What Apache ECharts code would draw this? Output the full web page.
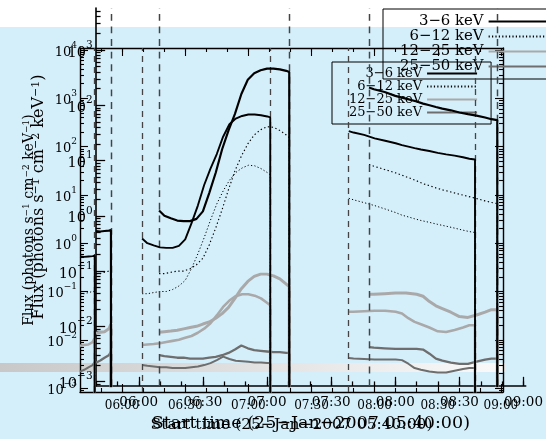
<!DOCTYPE html>
<html>
<head>
<meta charset="utf-8">
<script src="https://cdn.jsdelivr.net/npm/echarts@6/dist/echarts.min.js"></script>
<style>
  html, body { margin: 0; padding: 0; background: #fff; }
  #chart { width: 546px; height: 439px; }
</style>
</head>
<body>
<div id="chart"></div>
<script>
// X-ray light curves, 25-Jan-2007, plotted twice at two scales.
const START_OF_DAY_MIN = 340;          // 05:40 UT
const SPAN_MIN = 201;                  // 05:40 .. 09:01
const FONT = 'DejaVu Serif';

const bandNames = ['3−6 keV', '6−12 keV', '12−25 keV', '25−50 keV'];

// minutes after 05:40; '-' separates orbit-day segments
const minutes = [
  0, 2, 4, 6, 7, 7, '-',
  29.5, 32, 35, 38, 41, 44, 47, 50, 53, 56, 59, 62, 65, 68, 71, 74, 77, 80, 83, 86, 89, 90.4, 90.4, '-',
  127.7, 130, 135, 140, 145, 150, 153, 156, 159, 162, 166, 170, 174, 178, 182, 185, 187.7, 187.7
];
// last point of each segment is the count-rate floor at spacecraft night
const NIGHT = 1e-6;
const flux3to6 = [
  0.53, 0.52, 0.53, 0.54, 0.55, NIGHT, '-',
  1.25, 1.0, 0.9, 0.82, 0.8, 0.8, 0.88, 1.2, 2.6, 6, 16, 35, 70, 160, 290, 380, 430, 460, 460, 445, 420, 400, NIGHT, '-',
  209, 195, 174, 148, 132, 117, 107, 100, 93, 87, 81, 74, 69, 65, 60, 56, 54, NIGHT
];
const flux6to12 = [
  0.09, 0.09, 0.095, 0.1, 0.1, NIGHT, '-',
  0.09, 0.09, 0.095, 0.1, 0.1, 0.11, 0.13, 0.17, 0.3, 0.6, 1.3, 3, 6.5, 12, 20, 29, 36, 41, 40, 35, 29, 26, NIGHT, '-',
  8.5, 7.9, 6.9, 6.0, 5.1, 4.3, 3.8, 3.5, 3.2, 2.95, 2.7, 2.45, 2.25, 2.05, 1.86, 1.74, 1.66, NIGHT
];
const flux12to25 = [
  0.0075, 0.0078, 0.008, 0.009, 0.011, NIGHT, '-',
  0.0078, 0.008, 0.0082, 0.0085, 0.009, 0.0095, 0.01, 0.011, 0.012, 0.014, 0.017, 0.022, 0.032, 0.048, 0.065, 0.08, 0.088, 0.088, 0.082, 0.072, 0.058, 0.052, NIGHT, '-',
  0.038, 0.038, 0.039, 0.04, 0.04, 0.038, 0.035, 0.028, 0.0235, 0.021, 0.018, 0.015, 0.0145, 0.016, 0.018, 0.02, 0.02, NIGHT
];
const flux25to50 = [
  0.0022, 0.0024, 0.0027, 0.003, 0.0035, NIGHT, '-',
  0.003, 0.0029, 0.0028, 0.0027, 0.0027, 0.0026, 0.0026, 0.0026, 0.0027, 0.0028, 0.003, 0.0033, 0.0038, 0.0045, 0.004, 0.0037, 0.0036, 0.0035, 0.0034, 0.0034, 0.0033, 0.0033, NIGHT, '-',
  0.0042, 0.0041, 0.004, 0.0039, 0.0039, 0.0039, 0.0038, 0.0032, 0.0026, 0.0024, 0.0022, 0.0021, 0.0021, 0.0023, 0.0025, 0.0026, 0.0026, NIGHT
];

// night / attenuator boundaries, minutes after 05:40
const boundaryMinutes = [7, 29.5, 90.4, 127.7, 187.7];

// tick positions
const majorTickMinutes = [20, 50, 80, 110, 140, 170, 200];            // 06:00 .. 09:00
const minorTickMinutes = [];
for (let m = 0; m <= SPAN_MIN; m += 10) minorTickMinutes.push(m);
const decades = [-3, -2, -1, 0, 1, 2, 3, 4];
const decadeValues = decades.map(d => Math.pow(10, d));
const minorFluxTicks = [];
for (let d = -4; d <= 4; d++) for (let k = 2; k <= 9; k++) minorFluxTicks.push(k * Math.pow(10, d));

function clockLabel(t) {
  const total = Math.round(START_OF_DAY_MIN + t);
  const hh = Math.floor(total / 60), mm = total % 60;
  return String(hh).padStart(2, '0') + ':' + String(mm).padStart(2, '0');
}
function powerLabel(v) {
  const e = Math.round(Math.log10(v));
  return '{b|10}{s|' + (e < 0 ? '−' + (-e) : String(e)) + '}';
}

// two copies of the same plot: B (small) and A (enlarged)
const views = [
  { grid: { left: 80, top: 48, width: 423, height: 344 }, yMin: Math.pow(10, -3.08), yMax: Math.pow(10, 4.04),
    k: 1, tick: 12, title: 15.5, yname: 14, nameGapX: 23, nameGapY: 43, frame: true,
    legend: { left: 332, top: 62, padding: [5, 13, 5, 17], itemWidth: 50 } },
  { grid: { left: 96, top: 8, width: 484, height: 378 }, yMin: Math.pow(10, -3.08), yMax: Math.pow(10, 3.76),
    k: 1.145, tick: 13.5, title: 17.5, yname: 16, nameGapX: 26, nameGapY: 49, frame: false,
    legend: { left: 383, top: 9, padding: [5, 14, 5, 17], itemWidth: 62 } }
];

const xAxes = [], yAxes = [], series = [], legends = [];
const black = '#000';

views.forEach((v, gi) => {
  const k = v.k;
  const lineW = 1.4 * k;
  const baseX = xAxes.length, baseY = yAxes.length;
  const xBase = { gridIndex: gi, type: 'value', min: 0, max: SPAN_MIN, splitLine: { show: false } };
  const yBase = { gridIndex: gi, type: 'log', logBase: 10, min: v.yMin, max: v.yMax, splitLine: { show: false } };

  // bottom time axis: frame, major ticks and labels
  xAxes.push(Object.assign({}, xBase, {
    position: 'bottom',
    axisLine: { show: true, onZero: false, lineStyle: { color: black, width: lineW } },
    axisTick: { show: true, inside: true, length: 8 * k, customValues: majorTickMinutes, lineStyle: { color: black, width: 1.1 * k } },
    axisLabel: { show: true, customValues: majorTickMinutes, formatter: clockLabel, color: black,
                 fontFamily: FONT, fontSize: v.tick, margin: 8 * k },
    name: 'Start time (25−Jan−2007 05:40:00)', nameLocation: 'middle', nameGap: v.nameGapX,
    nameTextStyle: { fontFamily: FONT, fontSize: v.title, color: black }
  }));
  xAxes.push(Object.assign({}, xBase, {
    position: 'bottom',
    axisLine: { show: false, onZero: false },
    axisTick: { show: true, inside: true, length: 4 * k, customValues: minorTickMinutes, lineStyle: { color: black, width: 1.1 * k } },
    axisLabel: { show: false }
  }));
  yAxes.push(Object.assign({}, yBase, {
    position: 'left',
    axisLine: { show: true, onZero: false, lineStyle: { color: black, width: lineW } },
    axisTick: { show: true, inside: true, length: 8 * k, customValues: decadeValues, lineStyle: { color: black, width: 1.1 * k } },
    axisLabel: { show: true, customValues: decadeValues, formatter: powerLabel, margin: 3 * k,
      rich: {
        b: { fontFamily: FONT, fontSize: v.tick + 1, color: black, verticalAlign: 'bottom', padding: [5 * k, 0, 0, 0] },
        s: { fontFamily: FONT, fontSize: v.tick - 3, color: black, verticalAlign: 'top' }
      } },
    name: 'Flux (photons s{s|−1} cm{s|−2} keV{s|−1})', nameLocation: 'middle', nameGap: v.nameGapY, nameRotate: 90,
    nameTextStyle: { fontFamily: FONT, fontSize: v.yname, color: black,
      rich: { s: { fontFamily: FONT, fontSize: v.yname - 5, color: black, verticalAlign: 'top' } } }
  }));
  yAxes.push(Object.assign({}, yBase, {
    position: 'left',
    axisLine: { show: false, onZero: false },
    axisTick: { show: true, inside: true, length: 4 * k, customValues: minorFluxTicks, lineStyle: { color: black, width: 1.1 * k } },
    axisLabel: { show: false }
  }));
  if (v.frame) {
    xAxes.push(Object.assign({}, xBase, {
      position: 'top',
      axisLine: { show: true, onZero: false, lineStyle: { color: black, width: lineW } },
      axisTick: { show: true, inside: true, length: 8, customValues: majorTickMinutes, lineStyle: { color: black, width: 1.1 } },
      axisLabel: { show: false }
    }));
    xAxes.push(Object.assign({}, xBase, {
      position: 'top',
      axisLine: { show: false, onZero: false },
      axisTick: { show: true, inside: true, length: 4, customValues: minorTickMinutes, lineStyle: { color: black, width: 1.1 } },
      axisLabel: { show: false }
    }));
    yAxes.push(Object.assign({}, yBase, {
      position: 'right',
      axisLine: { show: true, onZero: false, lineStyle: { color: black, width: lineW } },
      axisTick: { show: true, inside: true, length: 8, customValues: decadeValues, lineStyle: { color: black, width: 1.1 } },
      axisLabel: { show: false }
    }));
    yAxes.push(Object.assign({}, yBase, {
      position: 'right',
      axisLine: { show: false, onZero: false },
      axisTick: { show: true, inside: true, length: 4, customValues: minorFluxTicks, lineStyle: { color: black, width: 1.1 } },
      axisLabel: { show: false }
    }));
  }

  const bandStyles = [
    { values: flux25to50, name: bandNames[3], color: '#6e6e6e', width: 2.0 * k, type: 'solid' },
    { values: flux12to25, name: bandNames[2], color: '#a9a9a9', width: 2.6 * k, type: 'solid' },
    { values: flux6to12,  name: bandNames[1], color: '#000000', width: 1.0 * k, type: [1.2 * k, 2.2 * k] },
    { values: flux3to6,   name: bandNames[0], color: '#000000', width: 1.9 * k, type: 'solid' }
  ];
  bandStyles.forEach((b, i) => {
    const s = {
      type: 'line', name: b.name, xAxisIndex: baseX, yAxisIndex: baseY,
      data: minutes.map((m, j) => (m === '-' ? ['-', '-'] : [m, b.values[j]])),
      showSymbol: false, symbol: 'none', connectNulls: false, clip: true,
      color: b.color,
      lineStyle: { color: b.color, width: b.width, type: b.type },
      animation: false, z: 2 + i
    };
    if (i === 3) {
      s.markLine = {
        silent: true, symbol: 'none', animation: false,
        label: { show: false },
        lineStyle: { color: '#444', width: 1.3 * k, type: [6 * k, 5 * k] },
        data: boundaryMinutes.map(t => ({ xAxis: t }))
      };
    }
    series.push(s);
  });

  legends.push({
    orient: 'vertical', align: 'right', left: v.legend.left, top: v.legend.top,
    padding: v.legend.padding, itemWidth: v.legend.itemWidth, itemHeight: 9 * k, itemGap: 0,
    borderColor: black, borderWidth: 1, selectedMode: false,
    itemStyle: { opacity: 0, borderWidth: 0 },
    textStyle: { fontFamily: FONT, fontSize: 13 * k, lineHeight: 12.7 * k, color: black },
    data: bandNames
  });
});

const chart = echarts.init(document.getElementById('chart'), null, { renderer: 'canvas' });
chart.setOption({
  animation: false,
  backgroundColor: '#ffffff',
  graphic: [
    { type: 'rect', z: -10, silent: true, shape: { x: 0, y: 27, width: 546, height: 412 }, style: { fill: '#d4effa' } },
    { type: 'rect', z: -9, silent: true, shape: { x: 0, y: 363, width: 505, height: 9 },
      style: { fill: { type: 'linear', x: 0, y: 0, x2: 1, y2: 0,
        colorStops: [{ offset: 0, color: '#c8c8c8' }, { offset: 0.55, color: '#e4e4e4' }, { offset: 1, color: '#fafafa' }] } } }
  ],
  grid: views.map(v => Object.assign({ containLabel: false }, v.grid)),
  xAxis: xAxes,
  yAxis: yAxes,
  legend: legends,
  series: series
});
</script>
</body>
</html>
